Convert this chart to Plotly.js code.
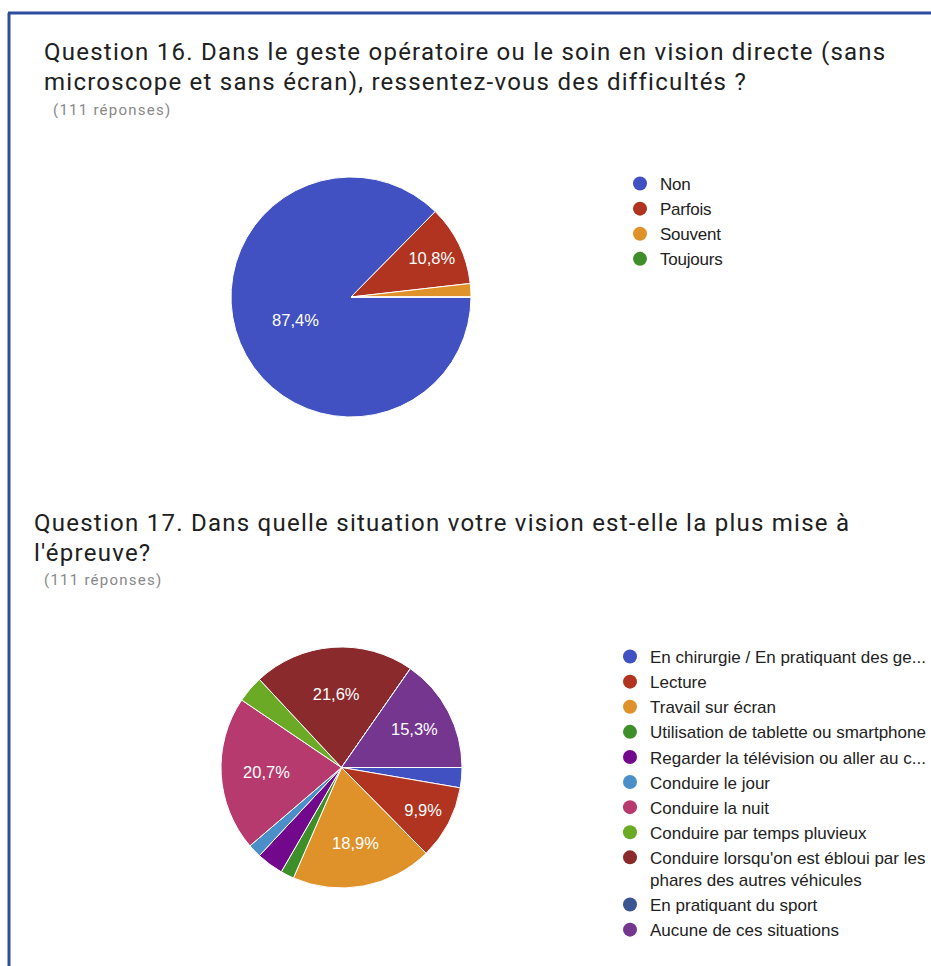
<!DOCTYPE html>
<html><head><meta charset="utf-8">
<script src="https://cdn.plot.ly/plotly-3.0.1.min.js"></script>
<style>
html,body{margin:0;padding:0;background:#fff}
#chart{width:931px;height:966px}
#chart .annotation-text{letter-spacing:1.25px}
#chart .legend text, #chart .legend tspan{letter-spacing:-0.22px !important}
</style>
</head><body><div id="chart"></div><script>
// ---- Data ----
const q16Labels = ["Non", "Parfois", "Souvent", "Toujours"];
const q16Values = [97, 12, 2, 0];
const q16Colors = ["#4151C1", "#B0341F", "#E0922A", "#3E8E2A"];

const q17Labels = [
  "En chirurgie / En pratiquant des ge...",
  "Lecture",
  "Travail sur écran",
  "Utilisation de tablette ou smartphone",
  "Regarder la télévision ou aller au c...",
  "Conduire le jour",
  "Conduire la nuit",
  "Conduire par temps pluvieux",
  "Conduire lorsqu'on est ébloui par les<br>phares des autres véhicules",
  "En pratiquant du sport",
  "Aucune de ces situations"
];
const q17Values = [3, 11, 21, 2, 4, 2, 23, 4, 24, 0, 17];
const q17Colors = ["#4151C1", "#B0341F", "#E0922A", "#3E8E2A", "#72088C", "#4A8FC7",
                   "#B73A6E", "#6AAA24", "#8B2A2C", "#3B5590", "#74368F"];

const q16TitleLines = ["Question 16. Dans le geste opératoire ou le soin en vision directe (sans",
                       "microscope et sans écran), ressentez-vous des difficultés ?"];
const q17TitleLines = ["Question 17. Dans quelle situation votre vision est-elle la plus mise à",
                       "l'épreuve?"];
const subTitle = "(111 réponses)";

// ---- Layout helpers ----
const W = 931, H = 966;
const px = v => v / W;
const py = v => 1 - v / H;
const FONT = "Liberation Sans, Arial, sans-serif";

function textPos(values) {
  const total = values.reduce((a, b) => a + b, 0);
  return values.map(v => (v / total >= 0.05 ? "inside" : "none"));
}

function pie(labels, values, colors, dom) {
  return {
    type: "pie", labels: labels, values: values, sort: false,
    direction: "clockwise", rotation: 90, showlegend: false,
    texttemplate: "%{percent:.1%}", textposition: textPos(values),
    insidetextorientation: "horizontal",
    insidetextfont: {color: "#ffffff", size: 16.5, family: FONT},
    marker: {colors: colors, line: {color: "#ffffff", width: 1}},
    domain: dom, hoverinfo: "label+percent"
  };
}

function legendTraces(labels, colors, legendId) {
  return labels.map((l, i) => ({
    type: "scatter", mode: "markers", x: [null], y: [null], name: l,
    marker: {color: colors[i], size: 14}, legend: legendId, showlegend: true,
    hoverinfo: "skip"
  }));
}

const data = [
  pie(q16Labels, q16Values, q16Colors, {x: [px(231), px(471)], y: [py(417), py(177)]}),
  pie(q17Labels, q17Values, q17Colors, {x: [px(221), px(462)], y: [py(888), py(647)]}),
  ...legendTraces(q16Labels, q16Colors, "legend"),
  ...legendTraces(q17Labels, q17Colors, "legend2")
];

const legendBase = {
  xanchor: "left", yanchor: "top", bgcolor: "rgba(0,0,0,0)",
  font: {family: FONT, size: 17, color: "#222222"},
  tracegroupgap: 0, valign: "top", itemclick: false, itemdoubleclick: false
};

function ann(text, x, y, size, color) {
  return {text: text, x: px(x), y: py(y), xref: "paper", yref: "paper", xanchor: "left", yanchor: "middle",
          align: "left", showarrow: false, font: {family: "Roboto", size: size, color: color}};
}

const layout = {
  width: W, height: H, margin: {l: 0, r: 0, t: 0, b: 0},
  paper_bgcolor: "#ffffff", plot_bgcolor: "#ffffff",
  separators: ", ",
  xaxis: {visible: false}, yaxis: {visible: false},
  legend: Object.assign({}, legendBase, {x: px(620), y: py(166)}),
  legend2: Object.assign({}, legendBase, {x: px(610), y: py(639)}),
  annotations: [
    ann(q16TitleLines[0], 42, 52, 24, "#202020"),
    ann(q16TitleLines[1], 42, 82, 24, "#202020"),
    ann(subTitle, 51, 110, 15, "#888888"),
    ann(q17TitleLines[0], 32, 523, 24, "#202020"),
    ann(q17TitleLines[1], 32, 553, 24, "#202020"),
    ann(subTitle, 42, 580, 15, "#888888")
  ],
  shapes: [
    {type: "line", xref: "paper", yref: "paper", x0: px(8), x1: 1, y0: py(13), y1: py(13),
     line: {color: "#2D4C9E", width: 3}},
    {type: "line", xref: "paper", yref: "paper", x0: px(9), x1: px(9), y0: py(13), y1: 0,
     line: {color: "#2D4C9E", width: 3}}
  ]
};

Plotly.newPlot("chart", data, layout, {displayModeBar: false, staticPlot: true});
</script></body></html>
